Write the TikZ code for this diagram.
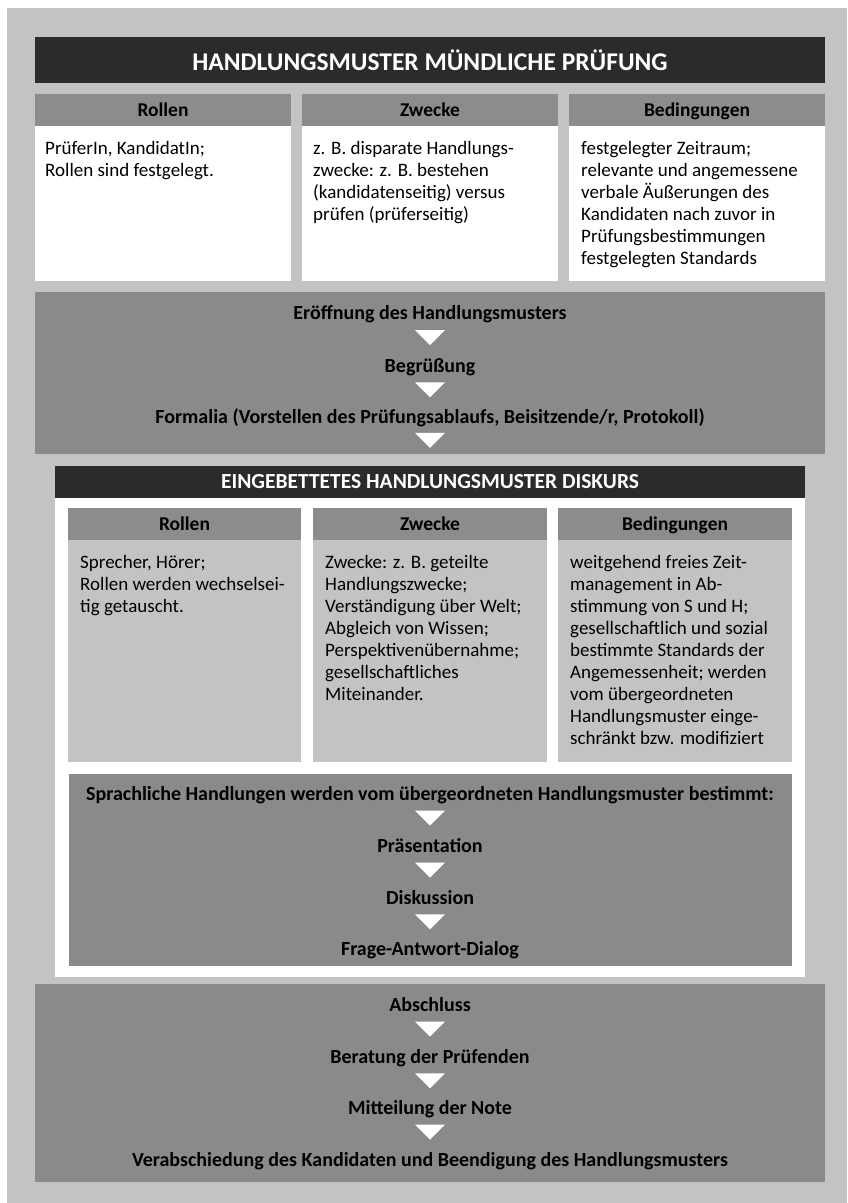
\documentclass[tikz,border=0pt]{standalone}
\usepackage{fontspec}
\setmainfont{Carlito}
\usepackage{tikz}
\usetikzlibrary{positioning, calc, decorations.markings}
\definecolor{bggray}{HTML}{C3C3C3}
\definecolor{titledark}{HTML}{2B2B2B}
\definecolor{headgray}{HTML}{8C8C8C}
\definecolor{flowgray}{HTML}{8A8A8A}

\begin{document}
\begin{tikzpicture}[
  x=1pt, y=-1pt,
  box/.style={rectangle, inner sep=0pt, outer sep=0pt, draw=none},
  titlebar/.style={box, fill=titledark, text=white,
    font=\bfseries\fontsize{25.5}{30}\selectfont},
  subbar/.style={box, fill=titledark, text=white,
    text height=15pt, text depth=2pt,
    font=\bfseries\fontsize{21.5}{26}\selectfont},
  head/.style={box, fill=headgray, minimum height=32pt,
    text height=14pt, text depth=2pt,
    font=\bfseries\fontsize{19.5}{22}\selectfont},
  cell/.style={box, fill=white},
  flowbox/.style={box, fill=flowgray},
  txt/.style={inner sep=0pt, anchor=north west, align=left,
    font=\fontsize{19}{22}\selectfont},
  stage/.style={inner sep=0pt, text height=14pt, text depth=2pt,
    font=\bfseries\fontsize{20}{24}\selectfont},
  flowarrow/.style={decoration={markings, mark=at position #1 with
    {\fill[white] (-7.5pt,-15pt) -- (7.5pt,0pt) -- (-7.5pt,15pt) -- cycle;}},
    postaction=decorate},
  flowarrow/.default=0.45,
]
  \useasboundingbox (0,0) rectangle (847,1203);
  \fill[bggray] (7,8) rectangle (847,1203);

  % Main pattern
  \node[titlebar, minimum width=790pt, minimum height=46pt] (title) at (430,60)
    {HANDLUNGSMUSTER MÜNDLICHE PRÜFUNG};
  \node[head, minimum width=256pt] (rh) at (163,110) {Rollen};
  \node[head, minimum width=256pt] (zh) at (430,110) {Zwecke};
  \node[head, minimum width=256pt] (bh) at (697,110) {Bedingungen};
  \node[cell, minimum width=256pt, minimum height=155pt] (rb) at (163,203.5) {};
  \node[cell, minimum width=256pt, minimum height=155pt] (zb) at (430,203.5) {};
  \node[cell, minimum width=256pt, minimum height=155pt] (bb) at (697,203.5) {};
  \node[txt, below right=15pt and 10pt of rb.north west] (rt)
    {PrüferIn, KandidatIn;\\Rollen sind festgelegt.};
  \node[txt, below right=15pt and 11pt of zb.north west] (zt)
    {z. B. disparate Handlungs-\\zwecke: z. B. bestehen\\(kandidatenseitig) versus\\prüfen (prüferseitig)};
  \node[txt, below right=15pt and 12pt of bb.north west] (bt)
    {festgelegter Zeitraum;\\relevante und angemessene\\verbale Äußerungen des\\Kandidaten nach zuvor in\\Prüfungsbestimmungen\\festgelegten Standards};

  % Opening
  \node[flowbox, minimum width=790pt, minimum height=162pt] (open) at (430,373) {};
  \node[stage] (e1) at (430,313) {Eröffnung des Handlungsmusters};
  \node[stage] (e2) at (430,366) {Begrüßung};
  \node[stage] (e3) at (430,417) {Formalia (Vorstellen des Prüfungsablaufs, Beisitzende/r, Protokoll)};

  % Embedded pattern
  \node[cell, minimum width=750pt, minimum height=511pt] (emb) at (430,721.5) {};
  \node[subbar, minimum width=750pt, minimum height=32pt] (sub) at (430,482)
    {EINGEBETTETES HANDLUNGSMUSTER DISKURS};
  \node[head, minimum width=233pt] (erh) at (184.5,524) {Rollen};
  \node[head, minimum width=234pt] (ezh) at (430,524) {Zwecke};
  \node[head, minimum width=234pt] (ebh) at (675,524) {Bedingungen};
  \node[cell, fill=bggray, minimum width=233pt, minimum height=222pt] (erb) at (184.5,651) {};
  \node[cell, fill=bggray, minimum width=234pt, minimum height=222pt] (ezb) at (430,651) {};
  \node[cell, fill=bggray, minimum width=234pt, minimum height=222pt] (ebb) at (675,651) {};
  \node[txt, below right=15pt and 12pt of erb.north west] (ert)
    {Sprecher, Hörer;\\Rollen werden wechselsei-\\tig getauscht.};
  \node[txt, below right=15pt and 12pt of ezb.north west] (ezt)
    {Zwecke: z. B. geteilte\\Handlungszwecke;\\Verständigung über Welt;\\Abgleich von Wissen;\\Perspektivenübernahme;\\gesellschaftliches\\Miteinander.};
  \node[txt, below right=15pt and 12pt of ebb.north west] (ebt)
    {weitgehend freies Zeit-\\management in Ab-\\stimmung von S und H;\\gesellschaftlich und sozial\\bestimmte Standards der\\Angemessenheit; werden\\vom übergeordneten\\Handlungsmuster einge-\\schränkt bzw. modifiziert};
  \node[flowbox, minimum width=723pt, minimum height=192pt] (acts) at (430.5,870) {};
  \node[stage] (s1) at (430,794) {Sprachliche Handlungen werden vom übergeordneten Handlungsmuster bestimmt:};
  \node[stage] (s2) at (430,846) {Präsentation};
  \node[stage] (s3) at (430,898) {Diskussion};
  \node[stage] (s4) at (430,949) {Frage-Antwort-Dialog};

  % Closing
  \node[flowbox, minimum width=790pt, minimum height=198pt] (close) at (430,1083) {};
  \node[stage] (a1) at (430,1005) {Abschluss};
  \node[stage] (a2) at (430,1057) {Beratung der Prüfenden};
  \node[stage] (a3) at (430,1108) {Mitteilung der Note};
  \node[stage] (a4) at (430,1160) {Verabschiedung des Kandidaten und Beendigung des Handlungsmusters};

  % Arrows
  \path[flowarrow] (e1) -- (e2);
  \path[flowarrow] (e2) -- (e3);
  \path[flowarrow=0.37] (e3) -- (sub);
  \path[flowarrow] (s1) -- (s2);
  \path[flowarrow] (s2) -- (s3);
  \path[flowarrow] (s3) -- (s4);
  \path[flowarrow] (a1) -- (a2);
  \path[flowarrow] (a2) -- (a3);
  \path[flowarrow] (a3) -- (a4);
\end{tikzpicture}
\end{document}
